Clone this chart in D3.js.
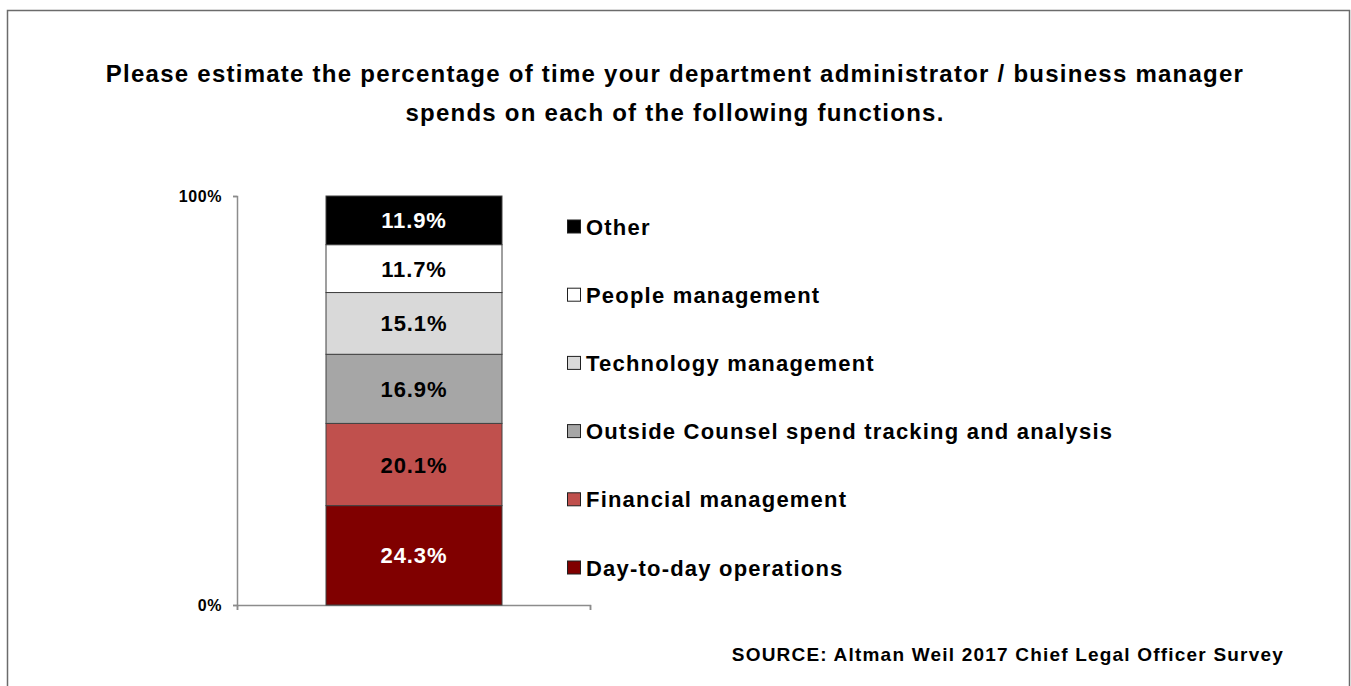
<!DOCTYPE html>
<html>
<head>
<meta charset="utf-8">
<script src="https://cdn.jsdelivr.net/npm/d3@7"></script>
<style>
  html, body { margin: 0; padding: 0; background: #fff; }
  svg text { font-family: "Liberation Sans", Arial, sans-serif; font-weight: bold; }
</style>
</head>
<body>
<svg id="chart" width="1351" height="686"></svg>
<script>
// Survey categories, bottom of the stack first
const categories = [
  "Day-to-day operations",
  "Financial management",
  "Outside Counsel spend tracking and analysis",
  "Technology management",
  "People management",
  "Other"
];
const values = [24.3, 20.1, 16.9, 15.1, 11.7, 11.9];
const colors = ["#800000", "#C0504D", "#A6A6A6", "#D9D9D9", "#FFFFFF", "#000000"];
const labelColors = ["#FFFFFF", "#000000", "#000000", "#000000", "#000000", "#FFFFFF"];
const yTicks = [0, 100];
const titleLines = [
  "Please estimate the percentage of time your department administrator / business manager",
  "spends on each of the following functions."
];
const sourceText = "SOURCE: Altman Weil 2017 Chief Legal Officer Survey";

const svg = d3.select("#chart");

// outer frame
svg.append("rect")
  .attr("x", 7.5).attr("y", 10.5)
  .attr("width", 1342).attr("height", 700)
  .attr("fill", "none").attr("stroke", "#6b6b6b").attr("stroke-width", 1.5);

// title
svg.append("g").selectAll("text").data(titleLines).join("text")
  .attr("x", 675).attr("y", (d, i) => 82 + i * 39)
  .attr("text-anchor", "middle")
  .attr("font-size", 24)
  .attr("letter-spacing", 1.25)
  .attr("fill", "#000")
  .text(d => d);

// plot geometry
const plot = { left: 237, right: 590, top: 196, bottom: 605 };
const y = d3.scaleLinear().domain([0, 100]).range([plot.bottom, plot.top]);

// stacked data
const stackData = [Object.fromEntries(categories.map((c, i) => [c, values[i]]))];
const series = d3.stack().keys(categories)(stackData);

// y axis
const yAxis = d3.axisLeft(y).tickValues(yTicks).tickFormat(d => d + "%").tickSize(4).tickPadding(11);
const yg = svg.append("g").attr("transform", `translate(${plot.left},0)`).call(yAxis);
yg.select(".domain").attr("stroke", "#8c8c8c").attr("stroke-width", 1.5);
yg.selectAll(".tick line").attr("stroke", "#8c8c8c").attr("stroke-width", 1.5);
yg.selectAll(".tick text").attr("font-size", 16).attr("letter-spacing", 0.6).attr("fill", "#000")
  .attr("font-family", "'Liberation Sans', Arial, sans-serif").attr("font-weight", "bold");

// x axis (baseline with end ticks pointing down)
const xAxis = d3.axisBottom(d3.scaleLinear().domain([0, 1]).range([plot.left, plot.right]))
  .tickValues([0, 1]).tickFormat("").tickSize(5);
const xg = svg.append("g").attr("transform", `translate(0,${plot.bottom})`).call(xAxis);
xg.select(".domain").attr("stroke", "#8c8c8c").attr("stroke-width", 1.5);
xg.selectAll(".tick line").attr("stroke", "#8c8c8c").attr("stroke-width", 1.5);

// bar segments
const bx = 326, bw = 176;
const seg = svg.append("g").selectAll("g").data(series).join("g");
seg.append("rect")
  .attr("x", bx).attr("width", bw)
  .attr("y", d => y(d[0][1]))
  .attr("height", d => y(d[0][0]) - y(d[0][1]))
  .attr("fill", (d, i) => colors[i])
  .attr("stroke", "#404040").attr("stroke-width", 1);
seg.append("text")
  .attr("x", bx + bw / 2)
  .attr("y", d => (y(d[0][0]) + y(d[0][1])) / 2 + 8)
  .attr("text-anchor", "middle")
  .attr("font-size", 22)
  .attr("letter-spacing", 0.9)
  .attr("fill", (d, i) => labelColors[i])
  .text((d, i) => values[i].toFixed(1) + "%");

// legend, top row is the top segment
const legendOrder = categories.map((c, i) => i).reverse();
const legendY = d3.scalePoint().domain(legendOrder).range([226.5, 567.5]);
const lg = svg.append("g").selectAll("g").data(legendOrder).join("g")
  .attr("transform", i => `translate(567,${legendY(i)})`);
lg.append("rect")
  .attr("x", 0.5).attr("y", -6.5).attr("width", 13).attr("height", 13)
  .attr("fill", i => colors[i]).attr("stroke", "#202020").attr("stroke-width", 1);
lg.append("text")
  .attr("x", 19).attr("y", 8)
  .attr("font-size", 22).attr("letter-spacing", 1.2).attr("fill", "#000")
  .text(i => categories[i]);

// source note
svg.append("text")
  .attr("x", 1284).attr("y", 661)
  .attr("text-anchor", "end")
  .attr("font-size", 19).attr("letter-spacing", 1.2).attr("fill", "#000")
  .text(sourceText);
</script>
</body>
</html>
